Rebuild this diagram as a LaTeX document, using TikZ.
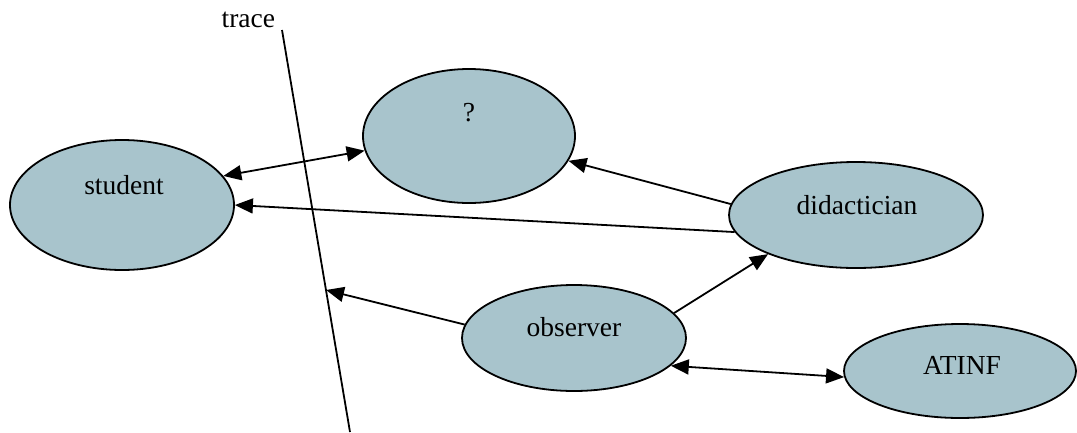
\documentclass[tikz,border=0pt]{standalone}
\usepackage{fontspec}
\setmainfont{Liberation Serif}
\usetikzlibrary{shapes.geometric,arrows.meta}
\definecolor{nodefill}{RGB}{168,196,204}
\begin{document}
\begin{tikzpicture}[x=1pt,y=-1pt,line width=1.8pt]
  \tikzstyle{actor}=[ellipse,draw,fill=nodefill,inner sep=0pt]
  \tikzstyle{txt}=[font=\fontsize{27.5}{30}\selectfont,inner sep=0pt]
  \tikzstyle{to}=[-{Triangle[length=18pt,width=15pt]}]
  \tikzstyle{both}=[{Triangle[length=18pt,width=15pt]}-{Triangle[length=18pt,width=15pt]}]
  \useasboundingbox (0,0) rectangle (1077,432);
  \node[actor,minimum width=224pt,minimum height=130pt] (student) at (122,205) {};
  \node[actor,minimum width=212pt,minimum height=134pt] (unknown) at (469,136) {};
  \node[actor,minimum width=254pt,minimum height=106pt] (didact) at (856,215) {};
  \node[actor,minimum width=224pt,minimum height=106pt] (observer) at (574,338) {};
  \node[actor,minimum width=232pt,minimum height=94pt] (atinf) at (960,371) {};
  \node[txt] (student-t) at (124,185) {student};
  \node[txt] (unknown-t) at (469,113) {?};
  \node[txt] (didact-t) at (857,205) {didactician};
  \node[txt] (observer-t) at (574,327) {observer};
  \node[txt] (atinf-t) at (962,365) {ATINF};
  % trace line
  \coordinate (ttop) at (282,30);
  \coordinate (tbot) at (350,432);
  \coordinate (thit) at (326,290);
  \node[txt,anchor=east] (trace) at (276,20) {trace};
  \draw (ttop) -- (tbot);
  % connectors
  \draw[both] (student.16) -- (unknown.188);
  \draw[to] (didact.175) -- (unknown.-14);
  \draw[to] (didact.188) -- (student.east);
  \draw[to] (observer.14) -- (didact.204);
  \draw[both] (observer.-16) -- (atinf.183);
  \draw[to] (observer.173) -- (thit);
\end{tikzpicture}
\end{document}
